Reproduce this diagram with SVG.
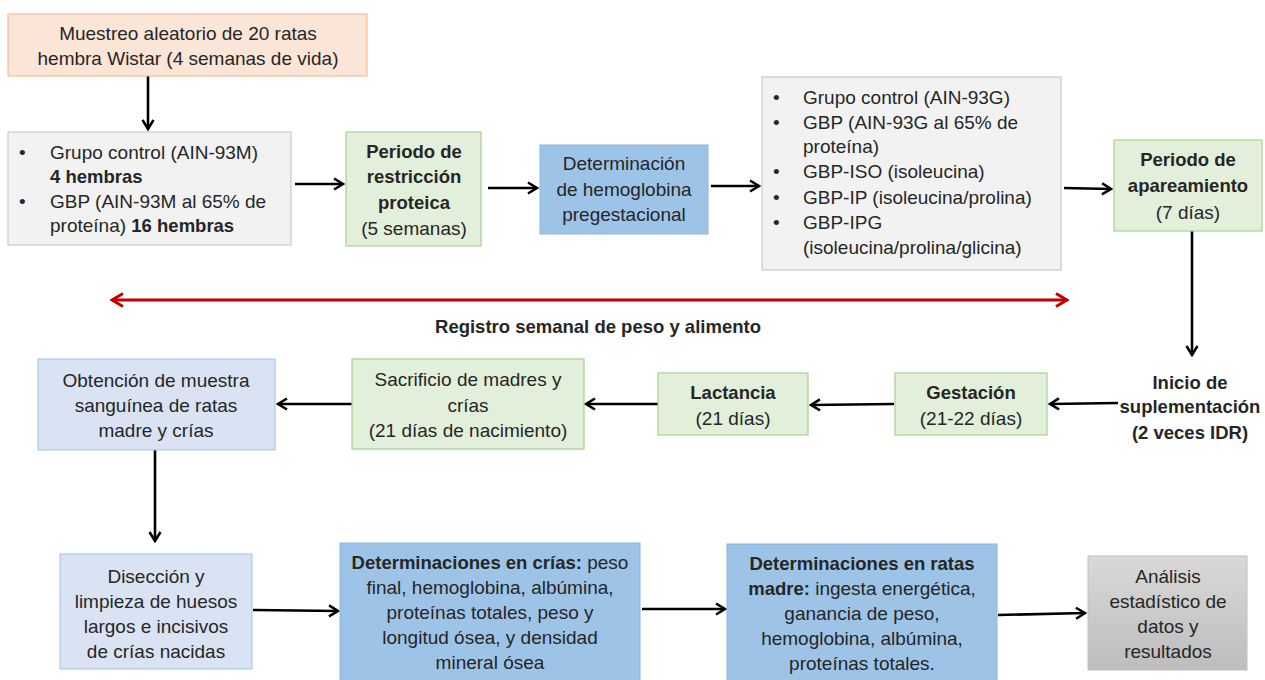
<svg xmlns="http://www.w3.org/2000/svg" width="1265" height="680" viewBox="0 0 1265 680">
<defs>
<marker id="ah" viewBox="0 0 14 14" refX="12" refY="7" markerWidth="14" markerHeight="14" markerUnits="userSpaceOnUse" orient="auto-start-reverse">
<path d="M3,1.5 L12,7 L3,12.5" fill="none" stroke="#000" stroke-width="2.5"/>
</marker>
<marker id="ahr" viewBox="0 0 16 16" refX="14" refY="8" markerWidth="16" markerHeight="16" markerUnits="userSpaceOnUse" orient="auto-start-reverse">
<path d="M3,1.5 L14,8 L3,14.5" fill="none" stroke="#C00000" stroke-width="2.8"/>
</marker>
<linearGradient id="gg" x1="0" y1="0" x2="0" y2="1">
<stop offset="0" stop-color="#D9D9D9"/><stop offset="1" stop-color="#BDBDBD"/>
</linearGradient>
</defs>
<style>
text{font-family:"Liberation Sans",Arial,sans-serif;font-size:19px;fill:#262626}
.c{text-anchor:middle}
.b{font-weight:bold;font-size:18.5px}
.orange{fill:#FBE5D6;stroke:#F4B183;stroke-width:1}
.grey{fill:#F2F2F2;stroke:#BFBFBF;stroke-width:1}
.green{fill:#E2EFDA;stroke:#A9D18E;stroke-width:1.2}
.blue{fill:#9DC3E6;stroke:#8FB4DC;stroke-width:1}
.lblue{fill:#DAE3F3;stroke:#9DC3E6;stroke-width:1}
.dgrey{fill:url(#gg);stroke:#BFBFBF;stroke-width:1}
.ln{fill:none;stroke:#000;stroke-width:2.6;marker-end:url(#ah)}
</style>
<rect width="1265" height="680" fill="#fff"/>

<g id="connectors">
<line class="ln" x1="148" y1="76" x2="148" y2="129"/>
<line class="ln" x1="295" y1="184" x2="343" y2="184"/>
<line class="ln" x1="488" y1="188" x2="537" y2="188"/>
<line class="ln" x1="711" y1="186" x2="759" y2="186"/>
<line class="ln" x1="1064" y1="188" x2="1111" y2="189"/>
<line class="ln" x1="1192" y1="231" x2="1192" y2="355"/>
<line class="ln" x1="1118" y1="403" x2="1050" y2="404"/>
<line class="ln" x1="894" y1="404" x2="811" y2="405"/>
<line class="ln" x1="658" y1="404" x2="586" y2="404"/>
<line class="ln" x1="352" y1="404" x2="278" y2="404"/>
<line class="ln" x1="155" y1="450" x2="155" y2="541"/>
<line class="ln" x1="253" y1="610" x2="338" y2="611"/>
<line class="ln" x1="642" y1="609" x2="725" y2="609"/>
<line class="ln" x1="998" y1="615" x2="1085" y2="613"/>
<line x1="112" y1="300" x2="1067" y2="300" stroke="#C00000" stroke-width="3" marker-start="url(#ahr)" marker-end="url(#ahr)"/>
</g>

<g id="n1">
<rect class="orange" x="8" y="14" width="359" height="62"/>
<text class="c" x="188" y="40">Muestreo aleatorio de 20 ratas</text>
<text class="c" x="188" y="65">hembra Wistar (4 semanas de vida)</text>
</g>

<g id="n2">
<rect class="grey" x="8" y="132" width="283" height="113"/>
<text x="19" y="159">•</text>
<text x="50" y="159">Grupo control (AIN-93M)</text>
<text x="50" y="183" class="b">4 hembras</text>
<text x="19" y="208">•</text>
<text x="50" y="208">GBP (AIN-93M al 65% de</text>
<text x="50" y="232">proteína) <tspan class="b">16 hembras</tspan></text>
</g>

<g id="n3">
<rect class="green" x="346" y="132" width="135" height="114"/>
<text class="c b" x="414" y="158">Periodo de</text>
<text class="c b" x="414" y="183">restricción</text>
<text class="c b" x="414" y="209">proteica</text>
<text class="c" x="414" y="235">(5 semanas)</text>
</g>

<g id="n4">
<rect class="blue" x="540" y="145" width="168" height="89"/>
<text class="c" x="624" y="170">Determinación</text>
<text class="c" x="624" y="196">de hemoglobina</text>
<text class="c" x="624" y="221">pregestacional</text>
</g>

<g id="n5">
<rect class="grey" x="762" y="77" width="299" height="193"/>
<text x="773" y="104">•</text>
<text x="803" y="104">Grupo control (AIN-93G)</text>
<text x="773" y="129">•</text>
<text x="803" y="129">GBP (AIN-93G al 65% de</text>
<text x="803" y="153">proteína)</text>
<text x="773" y="178">•</text>
<text x="803" y="178">GBP-ISO (isoleucina)</text>
<text x="773" y="204">•</text>
<text x="803" y="204">GBP-IP (isoleucina/prolina)</text>
<text x="773" y="229">•</text>
<text x="803" y="229">GBP-IPG</text>
<text x="803" y="254">(isoleucina/prolina/glicina)</text>
</g>

<g id="n6">
<rect class="green" x="1114" y="140" width="148" height="91"/>
<text class="c b" x="1188" y="166">Periodo de</text>
<text class="c b" x="1188" y="192">apareamiento</text>
<text class="c" x="1188" y="219">(7 días)</text>
</g>

<g id="label-registro">
<text class="c b" x="598" y="333">Registro semanal de peso y alimento</text>
</g>

<g id="n7">
<text class="c b" x="1190" y="389">Inicio de</text>
<text class="c b" x="1190" y="413">suplementación</text>
<text class="c b" x="1190" y="439">(2 veces IDR)</text>
</g>

<g id="n8">
<rect class="green" x="895" y="373" width="152" height="62"/>
<text class="c b" x="971" y="399">Gestación</text>
<text class="c" x="971" y="425">(21-22 días)</text>
</g>

<g id="n9">
<rect class="green" x="658" y="373" width="150" height="62"/>
<text class="c b" x="733" y="399">Lactancia</text>
<text class="c" x="733" y="425">(21 días)</text>
</g>

<g id="n10">
<rect class="green" x="352" y="359" width="232" height="90"/>
<text class="c" x="468" y="386">Sacrificio de madres y</text>
<text class="c" x="468" y="412">crías</text>
<text class="c" x="468" y="437">(21 días de nacimiento)</text>
</g>

<g id="n11">
<rect class="lblue" x="38" y="359" width="237" height="91"/>
<text class="c" x="156" y="387">Obtención de muestra</text>
<text class="c" x="156" y="412">sanguínea de ratas</text>
<text class="c" x="156" y="437">madre y crías</text>
</g>

<g id="n12">
<rect class="lblue" x="60" y="554" width="192" height="115"/>
<text class="c" x="156" y="583">Disección y</text>
<text class="c" x="156" y="608">limpieza de huesos</text>
<text class="c" x="156" y="633">largos e incisivos</text>
<text class="c" x="156" y="658">de crías nacidas</text>
</g>

<g id="n13">
<rect class="blue" x="340" y="543" width="300" height="140"/>
<text class="c" x="490" y="569"><tspan class="b">Determinaciones en crías:</tspan> peso</text>
<text class="c" x="490" y="594">final, hemoglobina, albúmina,</text>
<text class="c" x="490" y="619">proteínas totales, peso y</text>
<text class="c" x="490" y="644">longitud ósea, y densidad</text>
<text class="c" x="490" y="669">mineral ósea</text>
</g>

<g id="n14">
<rect class="blue" x="727" y="544" width="270" height="139"/>
<text class="c b" x="862" y="570">Determinaciones en ratas</text>
<text class="c" x="862" y="595"><tspan class="b">madre:</tspan> ingesta energética,</text>
<text class="c" x="862" y="620">ganancia de peso,</text>
<text class="c" x="862" y="645">hemoglobina, albúmina,</text>
<text class="c" x="862" y="670">proteínas totales.</text>
</g>

<g id="n15">
<rect class="dgrey" x="1088" y="556" width="159" height="114"/>
<text class="c" x="1168" y="583">Análisis</text>
<text class="c" x="1168" y="608">estadístico de</text>
<text class="c" x="1168" y="633">datos y</text>
<text class="c" x="1168" y="658">resultados</text>
</g>
</svg>
